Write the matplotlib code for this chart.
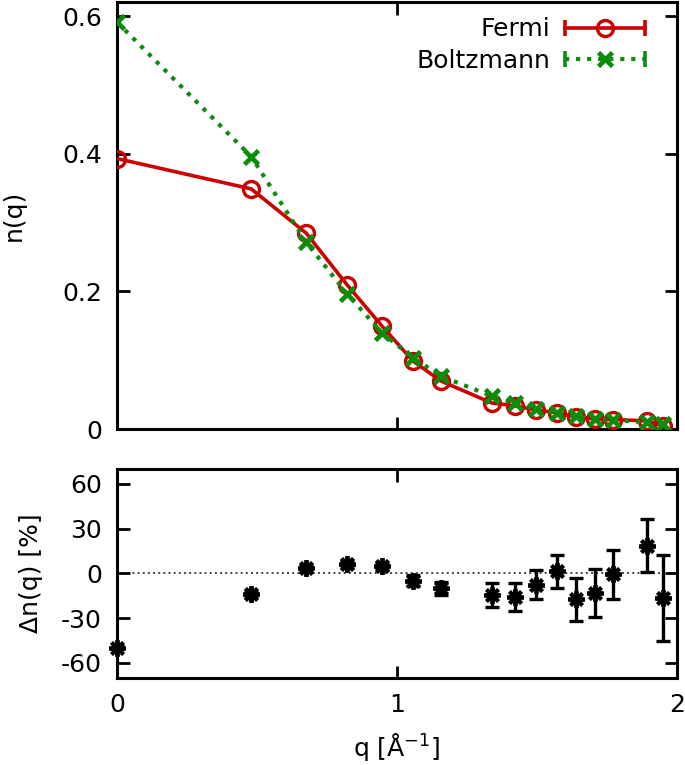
import numpy as np
import matplotlib
matplotlib.use("Agg")
import matplotlib.pyplot as plt
from matplotlib.lines import Line2D
from matplotlib.legend_handler import HandlerLine2D, HandlerTuple

# momenta [1/A]
q = [0.0, 0.479, 0.675, 0.821, 0.946, 1.057, 1.157, 1.339, 1.421,
     1.496, 1.571, 1.639, 1.707, 1.771, 1.893, 1.950]

n_fermi = [0.393, 0.349, 0.285, 0.210, 0.150, 0.099, 0.070, 0.038, 0.034,
           0.028, 0.024, 0.018, 0.015, 0.014, 0.012, 0.005]
n_boltz = [0.591, 0.396, 0.272, 0.197, 0.140, 0.104, 0.077, 0.048, 0.038,
           0.029, 0.023, 0.019, 0.015, 0.013, 0.010, 0.007]

# relative difference [%]
dn = [-50.0, -13.8, 3.3, 6.2, 4.8, -4.9, -10.1, -14.6, -15.9,
      -7.6, 1.3, -17.5, -13.3, -0.7, 18.6, -16.6]
dn_err = [1.0, 2.0, 2.0, 2.0, 2.0, 3.5, 4.5, 8.0, 9.3,
          9.6, 11.0, 14.6, 16.2, 16.6, 17.9, 28.7]

red = '#cc0000'
green = '#0c8c0c'

plt.rcParams['font.family'] = 'DejaVu Sans'
plt.rcParams['font.size'] = 18
plt.rcParams['axes.unicode_minus'] = False

fig = plt.figure(figsize=(6.85, 7.65), dpi=100)
ax1 = fig.add_axes([0.171, 0.439, 0.817, 0.558])
ax2 = fig.add_axes([0.171, 0.114, 0.817, 0.273])

ax1.plot(q, n_fermi, '-', color=red, lw=2.6, marker='o', ms=11.5,
         mfc='none', mec=red, mew=2.4, zorder=3)
ax1.plot(q, n_boltz, ':', color=green, lw=3.0, marker='x', ms=10,
         mec=green, mew=3.4, zorder=4)

ax1.set_xlim(0, 2)
ax1.set_ylim(0, 0.62)
ax1.set_yticks([0, 0.2, 0.4, 0.6])
ax1.set_yticklabels(['0', '0.2', '0.4', '0.6'])
ax1.set_xticks([0, 1, 2])
ax1.set_xticklabels([])
ax1.set_ylabel('n(q)')
ax1.yaxis.set_label_coords(-0.164, 0.5)

# legend with capped handles
f_main = Line2D([], [], color=red, lw=2.6, marker='o', ms=11.5, mfc='none', mec=red, mew=2.4)
f_caps = Line2D([], [], ls='none', color=red, marker='|', ms=12, mew=2.6)
b_main = Line2D([], [], color=green, lw=3.0, ls=':', marker='x', ms=10, mew=3.4)
b_caps = Line2D([], [], ls='none', color=green, marker='|', ms=12, mew=2.6)
hmap = {f_caps: HandlerLine2D(numpoints=2, marker_pad=0),
        b_caps: HandlerLine2D(numpoints=2, marker_pad=0),
        tuple: HandlerTuple(ndivide=1, pad=0)}
ax1.legend([(f_main, f_caps), (b_main, b_caps)], ['Fermi', 'Boltzmann'],
           loc='upper right', frameon=False, markerfirst=False, numpoints=1,
           handlelength=3.2, handletextpad=0.6, labelspacing=0.3,
           borderaxespad=0.2, bbox_to_anchor=(0.97, 1.0), handler_map=hmap)

ax2.axhline(0, color='#444444', ls=':', lw=1.4, zorder=1)
ax2.errorbar(q, dn, yerr=dn_err, fmt='none', ecolor='black', elinewidth=2.4,
             capsize=5, capthick=2.4, zorder=3)
ax2.plot(q, dn, ls='none', marker=(8, 2, 0), ms=12, mec='black', mew=2.8,
         color='black', zorder=4, clip_on=False)

ax2.set_xlim(0, 2)
ax2.set_ylim(-70, 70)
ax2.set_yticks([-60, -30, 0, 30, 60])
ax2.set_xticks([0, 1, 2])
ax2.set_xlabel('q [Å$^{-1}$]', labelpad=10)
ax2.set_ylabel('Δn(q) [%]')
ax2.yaxis.set_label_coords(-0.132, 0.5)

for ax in (ax1, ax2):
    for s in ax.spines.values():
        s.set_linewidth(2.2)
    ax.tick_params(direction='in', length=9, width=2.0, top=True, right=True,
                   pad=11, labelsize=18)

fig.savefig('out.png', dpi=100)
